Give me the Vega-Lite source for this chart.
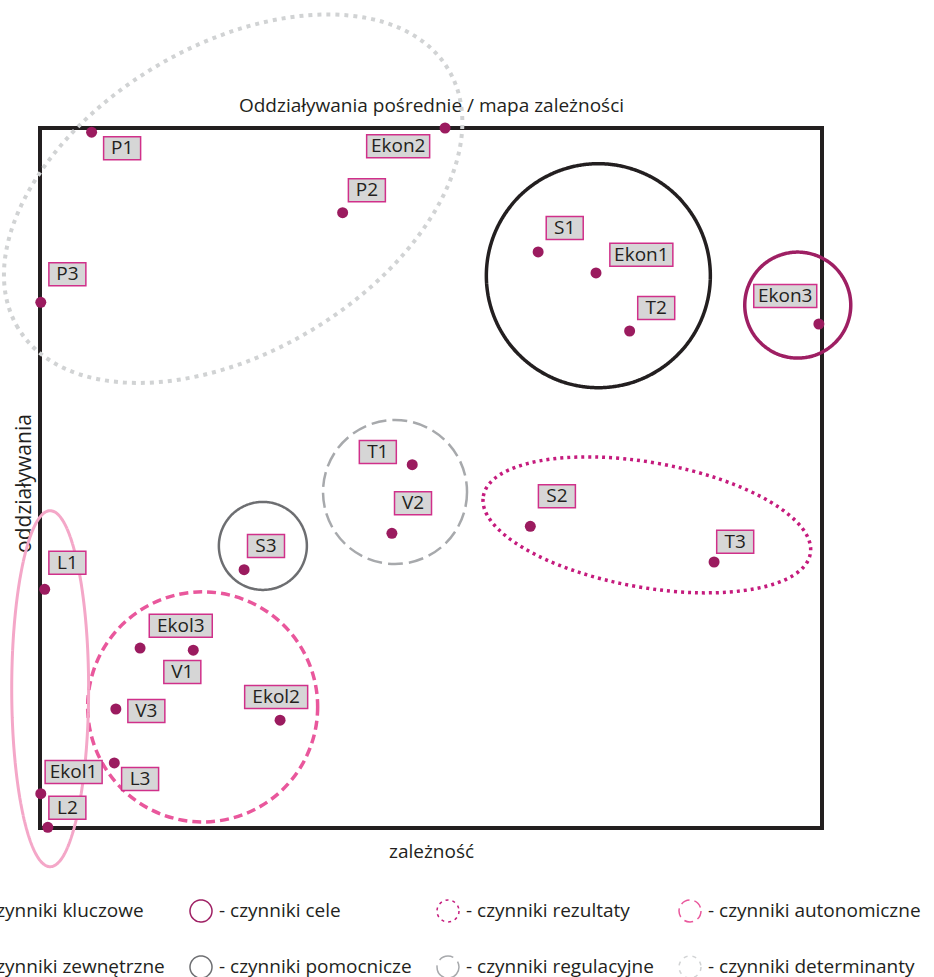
{
  "$schema": "https://vega.github.io/schema/vega-lite/v6.json",
  "width": 782,
  "height": 700,
  "autosize": {"type": "none"},
  "padding": {"left": 40, "top": 128, "right": 112, "bottom": 149},
  "background": "white",
  "config": {
    "font": "Open Sans",
    "view": {"stroke": "#231f20", "strokeWidth": 4},
    "axis": {"domain": false, "ticks": false, "labels": false, "grid": false, "titleFont": "Open Sans", "titleFontSize": 19, "titleFontWeight": "normal", "titleColor": "#231f20", "minExtent": 0}
  },
  "datasets": {
    "pts": [
      {"label": "P1", "x": 6.6, "y": 99.4, "lx": 10.5, "ly": 97.1},
      {"label": "Ekon2", "x": 51.8, "y": 100, "lx": 45.8, "ly": 97.4},
      {"label": "P2", "x": 38.7, "y": 87.9, "lx": 41.8, "ly": 91.1},
      {"label": "P3", "x": 0.1, "y": 75.1, "lx": 3.5, "ly": 79.1},
      {"label": "S1", "x": 63.7, "y": 82.3, "lx": 67.1, "ly": 85.7},
      {"label": "Ekon1", "x": 71.1, "y": 79.3, "lx": 76.9, "ly": 81.9},
      {"label": "T2", "x": 75.4, "y": 71.0, "lx": 78.8, "ly": 74.3},
      {"label": "Ekon3", "x": 99.6, "y": 72.0, "lx": 95.3, "ly": 76.0},
      {"label": "T1", "x": 47.6, "y": 51.9, "lx": 43.2, "ly": 53.7},
      {"label": "V2", "x": 45.0, "y": 42.1, "lx": 47.7, "ly": 46.4},
      {"label": "S2", "x": 62.7, "y": 43.1, "lx": 66.1, "ly": 47.4},
      {"label": "T3", "x": 86.2, "y": 38.0, "lx": 88.9, "ly": 40.9},
      {"label": "S3", "x": 26.1, "y": 36.9, "lx": 28.9, "ly": 40.3},
      {"label": "L1", "x": 0.6, "y": 34.1, "lx": 3.5, "ly": 37.9},
      {"label": "Ekol3", "x": 12.8, "y": 25.7, "lx": 18.0, "ly": 28.9},
      {"label": "V1", "x": 19.6, "y": 25.4, "lx": 18.2, "ly": 22.3},
      {"label": "Ekol2", "x": 30.7, "y": 15.4, "lx": 30.2, "ly": 18.7},
      {"label": "V3", "x": 9.7, "y": 17.0, "lx": 13.6, "ly": 16.7},
      {"label": "Ekol1", "x": 0.1, "y": 4.9, "lx": 4.3, "ly": 8.0},
      {"label": "L3", "x": 9.5, "y": 9.3, "lx": 12.8, "ly": 7.0},
      {"label": "L2", "x": 1.0, "y": 0.1, "lx": 3.5, "ly": 2.9}
    ],
    "groups": [
      {"type": "kluczowe", "cx": 71.4, "cy": 78.9},
      {"type": "cele", "cx": 96.9, "cy": 74.7},
      {"type": "rezultaty", "cx": 77.6, "cy": 43.3},
      {"type": "autonomiczne", "cx": 20.8, "cy": 17.3},
      {"type": "zewnętrzne", "cx": 1.3, "cy": 19.9},
      {"type": "pomocnicze", "cx": 28.5, "cy": 40.3},
      {"type": "regulacyjne", "cx": 45.4, "cy": 48.0},
      {"type": "determinanty", "cx": 24.7, "cy": 89.9}
    ]
  },
  "resolve": {"axis": {"x": "independent", "y": "independent"}},
  "layer": [
    {
      "mark": {"type": "rule", "color": "#a7a9ac", "strokeWidth": 3, "strokeDash": [9, 5]},
      "encoding": {"x": {"datum": 50, "type": "quantitative", "scale": {"domain": [0, 100], "nice": false}, "axis": null}}
    },
    {
      "mark": {"type": "rule", "color": "#a7a9ac", "strokeWidth": 3, "strokeDash": [9, 5]},
      "encoding": {"y": {"datum": 50, "type": "quantitative", "scale": {"domain": [0, 100], "nice": false}, "axis": null}}
    },
    {
      "data": {"name": "groups"},
      "transform": [{"filter": "datum.type == 'determinanty'"}],
      "mark": {"type": "point", "filled": false, "opacity": 1, "strokeWidth": 4, "angle": -31, "size": 252004, "shape": "M-1,0C-1,-0.337,-0.552,-0.61,0,-0.61C0.552,-0.61,1,-0.337,1,0C1,0.337,0.552,0.61,0,0.61C-0.552,0.61,-1,0.337,-1,0Z"},
      "encoding": {
        "x": {"field": "cx", "type": "quantitative", "scale": {"domain": [0, 100], "nice": false}, "axis": null},
        "y": {"field": "cy", "type": "quantitative", "scale": {"domain": [0, 100], "nice": false}, "axis": null},
        "stroke": {
          "field": "type", "type": "nominal",
          "scale": {"domain": ["kluczowe", "cele", "rezultaty", "autonomiczne", "zewnętrzne", "pomocnicze", "regulacyjne", "determinanty"], "range": ["#231f20", "#9e1f63", "#c51b7d", "#e9579c", "#f4a7c8", "#6d6e71", "#a7a9ac", "#d1d3d4"]},
          "legend": {
            "title": null, "orient": "none", "legendX": -94, "legendY": 771, "columns": 4, "direction": "horizontal", "gridAlign": "each",
            "symbolType": "circle", "symbolSize": 484, "symbolFillColor": "transparent", "symbolOpacity": 1,
            "labelFont": "Open Sans", "labelFontSize": 19, "labelColor": "#231f20", "labelOffset": 6, "labelLimit": 400,
            "columnPadding": 22, "rowPadding": 28, "padding": 0,
            "labelExpr": "'- czynniki ' + datum.label",
            "encode": {"symbols": {"update": {
              "strokeDash": {"signal": "[[1,0],[1,0],[3,4],[9,5],[1,0],[1,0],[15,6],[4,5]][indexof(['kluczowe','cele','rezultaty','autonomiczne','zewnętrzne','pomocnicze','regulacyjne','determinanty'], datum.value)]"},
              "strokeWidth": {"signal": "[3.5,3.5,3.5,3.5,3,2.5,2.5,4][indexof(['kluczowe','cele','rezultaty','autonomiczne','zewnętrzne','pomocnicze','regulacyjne','determinanty'], datum.value)]"}
            }}}
          }
        },
        "strokeDash": {"field": "type", "type": "nominal", "scale": {"domain": ["kluczowe", "cele", "rezultaty", "autonomiczne", "zewnętrzne", "pomocnicze", "regulacyjne", "determinanty"], "range": [[1, 0], [1, 0], [3, 4], [9, 5], [1, 0], [1, 0], [15, 6], [4, 5]]}, "legend": null}
      }
    },
    {
      "data": {"name": "groups"},
      "transform": [{"filter": "datum.type == 'kluczowe'"}],
      "mark": {"type": "point", "filled": false, "opacity": 1, "strokeWidth": 3.5, "shape": "circle", "size": 50176},
      "encoding": {
        "x": {"field": "cx", "type": "quantitative", "scale": {"domain": [0, 100], "nice": false}, "axis": null},
        "y": {"field": "cy", "type": "quantitative", "scale": {"domain": [0, 100], "nice": false}, "axis": null},
        "stroke": {"field": "type", "type": "nominal"},
        "strokeDash": {"field": "type", "type": "nominal", "legend": null}
      }
    },
    {
      "data": {"name": "groups"},
      "transform": [{"filter": "datum.type == 'cele'"}],
      "mark": {"type": "point", "filled": false, "opacity": 1, "strokeWidth": 3.5, "shape": "circle", "size": 11236},
      "encoding": {
        "x": {"field": "cx", "type": "quantitative", "scale": {"domain": [0, 100], "nice": false}, "axis": null},
        "y": {"field": "cy", "type": "quantitative", "scale": {"domain": [0, 100], "nice": false}, "axis": null},
        "stroke": {"field": "type", "type": "nominal"},
        "strokeDash": {"field": "type", "type": "nominal", "legend": null}
      }
    },
    {
      "data": {"name": "groups"},
      "transform": [{"filter": "datum.type == 'rezultaty'"}],
      "mark": {"type": "point", "filled": false, "opacity": 1, "strokeWidth": 3.5, "angle": 10, "size": 110224, "shape": "M-1,0C-1,-0.208,-0.552,-0.3765,0,-0.3765C0.552,-0.3765,1,-0.208,1,0C1,0.208,0.552,0.3765,0,0.3765C-0.552,0.3765,-1,0.208,-1,0Z"},
      "encoding": {
        "x": {"field": "cx", "type": "quantitative", "scale": {"domain": [0, 100], "nice": false}, "axis": null},
        "y": {"field": "cy", "type": "quantitative", "scale": {"domain": [0, 100], "nice": false}, "axis": null},
        "stroke": {"field": "type", "type": "nominal"},
        "strokeDash": {"field": "type", "type": "nominal", "legend": null}
      }
    },
    {
      "data": {"name": "groups"},
      "transform": [{"filter": "datum.type == 'autonomiczne'"}],
      "mark": {"type": "point", "filled": false, "opacity": 1, "strokeWidth": 3.5, "shape": "circle", "size": 52900},
      "encoding": {
        "x": {"field": "cx", "type": "quantitative", "scale": {"domain": [0, 100], "nice": false}, "axis": null},
        "y": {"field": "cy", "type": "quantitative", "scale": {"domain": [0, 100], "nice": false}, "axis": null},
        "stroke": {"field": "type", "type": "nominal"},
        "strokeDash": {"field": "type", "type": "nominal", "legend": null}
      }
    },
    {
      "data": {"name": "groups"},
      "transform": [{"filter": "datum.type == 'zewnętrzne'"}],
      "mark": {"type": "point", "filled": false, "opacity": 1, "strokeWidth": 3, "size": 126736, "shape": "M0,-1C0.119,-1,0.216,-0.552,0.216,0C0.216,0.552,0.119,1,0,1C-0.119,1,-0.216,0.552,-0.216,0C-0.216,-0.552,-0.119,-1,0,-1Z"},
      "encoding": {
        "x": {"field": "cx", "type": "quantitative", "scale": {"domain": [0, 100], "nice": false}, "axis": null},
        "y": {"field": "cy", "type": "quantitative", "scale": {"domain": [0, 100], "nice": false}, "axis": null},
        "stroke": {"field": "type", "type": "nominal"},
        "strokeDash": {"field": "type", "type": "nominal", "legend": null}
      }
    },
    {
      "data": {"name": "groups"},
      "transform": [{"filter": "datum.type == 'pomocnicze'"}],
      "mark": {"type": "point", "filled": false, "opacity": 1, "strokeWidth": 2.5, "shape": "circle", "size": 7744},
      "encoding": {
        "x": {"field": "cx", "type": "quantitative", "scale": {"domain": [0, 100], "nice": false}, "axis": null},
        "y": {"field": "cy", "type": "quantitative", "scale": {"domain": [0, 100], "nice": false}, "axis": null},
        "stroke": {"field": "type", "type": "nominal"},
        "strokeDash": {"field": "type", "type": "nominal", "legend": null}
      }
    },
    {
      "data": {"name": "groups"},
      "transform": [{"filter": "datum.type == 'regulacyjne'"}],
      "mark": {"type": "point", "filled": false, "opacity": 1, "strokeWidth": 2.5, "shape": "circle", "size": 20736},
      "encoding": {
        "x": {"field": "cx", "type": "quantitative", "scale": {"domain": [0, 100], "nice": false}, "axis": null},
        "y": {"field": "cy", "type": "quantitative", "scale": {"domain": [0, 100], "nice": false}, "axis": null},
        "stroke": {"field": "type", "type": "nominal"},
        "strokeDash": {"field": "type", "type": "nominal", "legend": null}
      }
    },
    {
      "data": {"name": "pts"},
      "mark": {"type": "point", "filled": true, "shape": "circle", "size": 121, "color": "#9b1b5f", "opacity": 1},
      "encoding": {
        "x": {"field": "x", "type": "quantitative", "scale": {"domain": [0, 100], "nice": false}, "axis": {"orient": "bottom", "title": "zależność", "titlePadding": 14}},
        "y": {"field": "y", "type": "quantitative", "scale": {"domain": [0, 100], "nice": false}, "axis": {"orient": "left", "title": "oddziaływania", "titlePadding": 6, "titleFontSize": 21, "titleY": 355}}
      }
    },
    {
      "data": {"name": "pts"},
      "transform": [{"filter": "length(datum.label) == 2"}],
      "mark": {"type": "rect", "fill": "#d6d6d6", "stroke": "#d0308a", "strokeWidth": 1.5, "xOffset": -18.5, "x2Offset": 18.5, "yOffset": -11.5, "y2Offset": 11.5},
      "encoding": {
        "x": {"field": "lx", "type": "quantitative", "scale": {"domain": [0, 100], "nice": false}, "axis": null},
        "x2": {"field": "lx"},
        "y": {"field": "ly", "type": "quantitative", "scale": {"domain": [0, 100], "nice": false}, "axis": null},
        "y2": {"field": "ly"}
      }
    },
    {
      "data": {"name": "pts"},
      "transform": [{"filter": "length(datum.label) == 5 && datum.label != 'Ekol1'"}],
      "mark": {"type": "rect", "fill": "#d6d6d6", "stroke": "#d0308a", "strokeWidth": 1.5, "xOffset": -31.5, "x2Offset": 31.5, "yOffset": -11.5, "y2Offset": 11.5},
      "encoding": {
        "x": {"field": "lx", "type": "quantitative", "scale": {"domain": [0, 100], "nice": false}, "axis": null},
        "x2": {"field": "lx"},
        "y": {"field": "ly", "type": "quantitative", "scale": {"domain": [0, 100], "nice": false}, "axis": null},
        "y2": {"field": "ly"}
      }
    },
    {
      "data": {"name": "pts"},
      "transform": [{"filter": "datum.label == 'Ekol1'"}],
      "mark": {"type": "rect", "fill": "#d6d6d6", "stroke": "#d0308a", "strokeWidth": 1.5, "xOffset": -28.5, "x2Offset": 28.5, "yOffset": -11.5, "y2Offset": 11.5},
      "encoding": {
        "x": {"field": "lx", "type": "quantitative", "scale": {"domain": [0, 100], "nice": false}, "axis": null},
        "x2": {"field": "lx"},
        "y": {"field": "ly", "type": "quantitative", "scale": {"domain": [0, 100], "nice": false}, "axis": null},
        "y2": {"field": "ly"}
      }
    },
    {
      "data": {"name": "pts"},
      "mark": {"type": "text", "font": "Open Sans", "fontSize": 19, "color": "#231f20", "align": "center", "baseline": "middle"},
      "encoding": {
        "x": {"field": "lx", "type": "quantitative", "scale": {"domain": [0, 100], "nice": false}, "axis": {"orient": "top", "title": "Oddziaływania pośrednie / mapa zależności", "titlePadding": 13}},
        "y": {"field": "ly", "type": "quantitative", "scale": {"domain": [0, 100], "nice": false}, "axis": null},
        "text": {"field": "label", "type": "nominal"}
      }
    }
  ]
}
